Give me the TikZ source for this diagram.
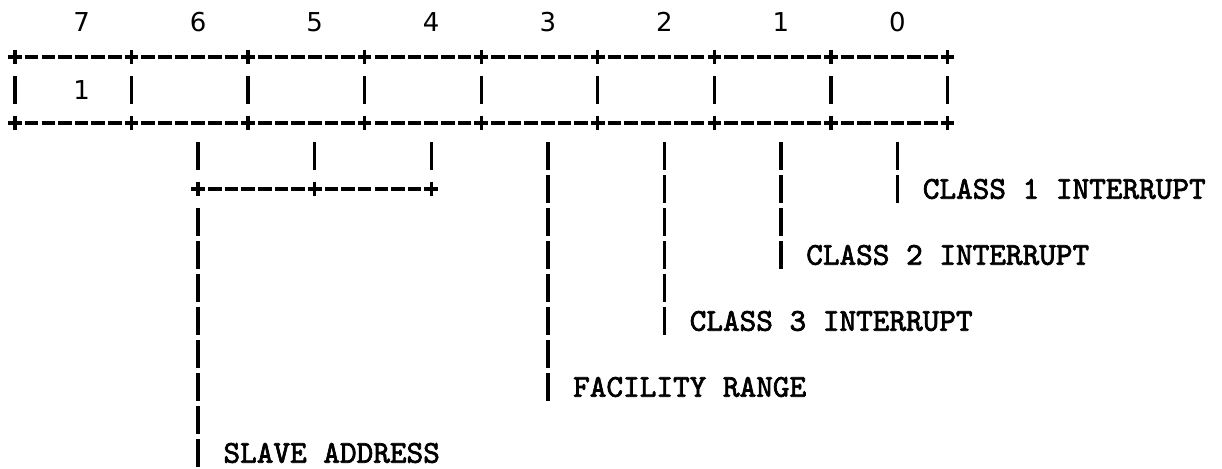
\documentclass[tikz,border=0pt]{standalone}
\usepackage{fontspec}
\newfontfamily\digfont{DejaVu Sans}
\newfontfamily\labfont{lmmono10-regular.otf}[FakeBold=2.2]
\usetikzlibrary{calc}
\begin{document}
\begin{tikzpicture}[x=8.325pt,y=-16.5pt,
  hrule/.style={line width=1.7pt, dash pattern=on 6.8pt off 1.525pt},
  vrule/.style={line width=1.7pt, dash pattern=on 14pt off 2.5pt},
  tick/.style={line width=1.7pt},
  digit/.style={font=\digfont\fontsize{13}{13}\selectfont, inner sep=0pt},
  lab/.style={font=\labfont\fontsize{15.85}{16}\selectfont, inner sep=0pt, anchor=west}]
\useasboundingbox (-0.9009,-0.7273) rectangle (72.4925,13.4848);
% bit numbers
\foreach \b [count=\i from 0] in {7,6,5,4,3,2,1,0}
  \node[digit] (b\b) at ({4+7*\i},-0.06) {\b};
% register box
\node[digit] (v7) at (b7 |- 0,2) {1};
\coordinate (tl) at (-0.408,1);
\coordinate (tr) at (56.408,1);
\coordinate (bl) at (-0.408,3);
\coordinate (br) at (56.408,3);
\draw[hrule] (tl) -- (tr);
\draw[hrule] (bl) -- (br);
\foreach \c in {0,7,...,56} {
  \draw[tick] (\c,0.773) -- (\c,1.227);
  \draw[tick] (\c,2.773) -- (\c,3.227);
  \draw[tick] (\c,1.576) -- (\c,2.424);
}
% slave address group
\foreach \b in {6,5,4} {
  \draw[tick] (b\b |- 0,3.576) -- (b\b |- 0,4.424);
  \draw[tick] (b\b |- 0,4.773) -- (b\b |- 0,5.227);
}
\coordinate (gl) at (10.592,5);
\coordinate (gr) at (25.408,5);
\draw[hrule] (gl) -- (gr);
% labels
\node[lab] (L1) at (54.5,5) {CLASS 1 INTERRUPT};
\node[lab] (L2) at (47.5,7) {CLASS 2 INTERRUPT};
\node[lab] (L3) at (40.5,9) {CLASS 3 INTERRUPT};
\node[lab] (L4) at (33.5,11) {FACILITY RANGE};
\node[lab] (L5) at (12.5,13) {SLAVE ADDRESS};
% leaders
\draw[vrule] (b6 |- 0,5.576) -- ($(b6 |- L5)+(0,0.424)$);
\draw[vrule] (b3 |- 0,3.576) -- ($(b3 |- L4)+(0,0.424)$);
\draw[vrule] (b2 |- 0,3.576) -- ($(b2 |- L3)+(0,0.424)$);
\draw[vrule] (b1 |- 0,3.576) -- ($(b1 |- L2)+(0,0.424)$);
\draw[vrule] (b0 |- 0,3.576) -- ($(b0 |- L1)+(0,0.424)$);
\end{tikzpicture}
\end{document}
